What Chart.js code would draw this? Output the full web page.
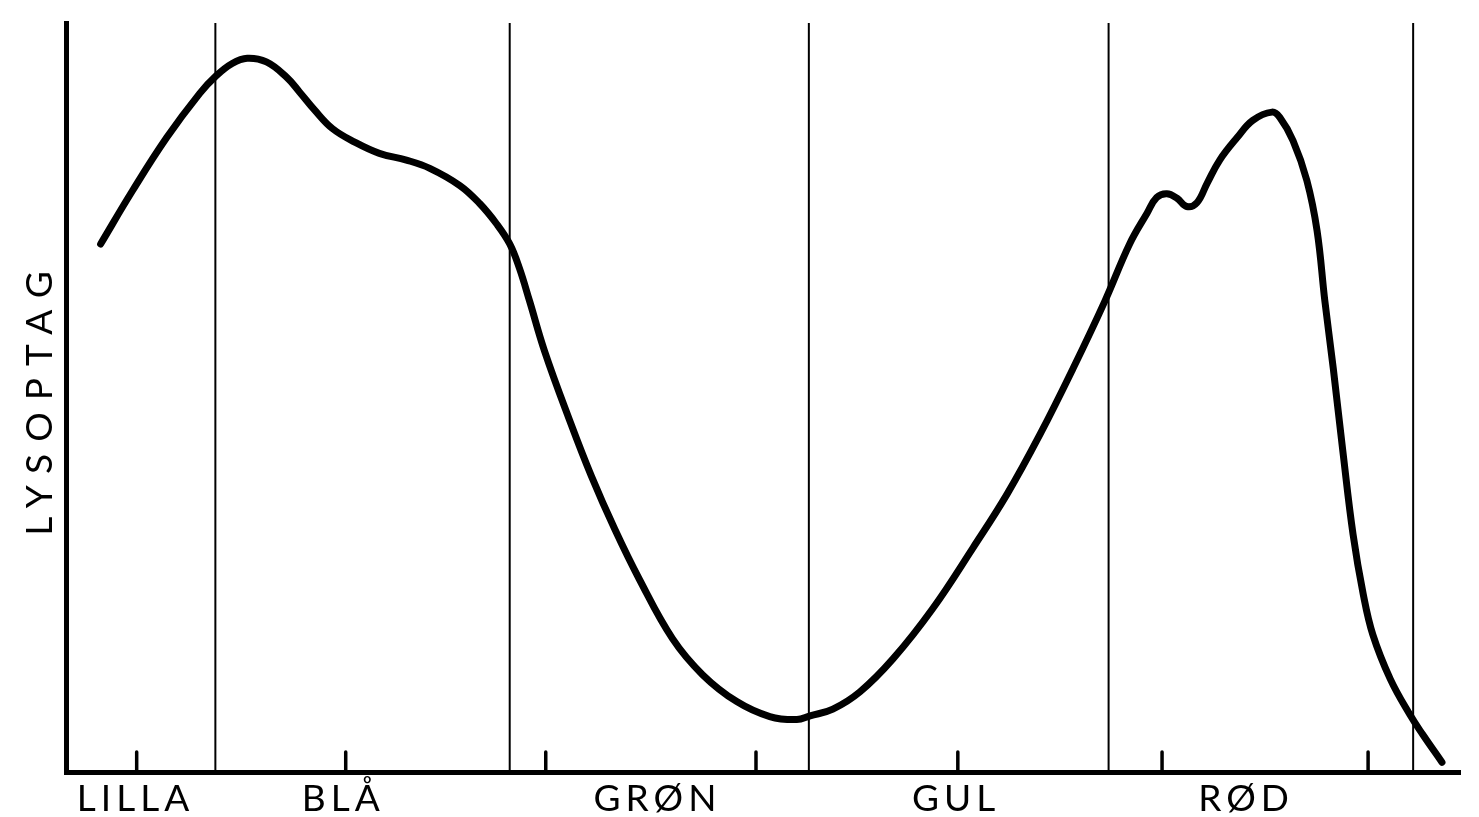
<!DOCTYPE html>
<html>
<head>
<meta charset="utf-8">
<title>Lysoptag</title>
<script src="https://cdn.jsdelivr.net/npm/chart.js@4.4.1/dist/chart.umd.min.js"></script>
<style>
  html, body { margin: 0; padding: 0; background: #fff; }
  #wrap { width: 1479px; height: 817px; }
</style>
</head>
<body>
<div id="wrap"><canvas id="spectrumChart"></canvas></div>
<script>
// wavelength (nm) and relative light absorption
const wavelengths = [
  380.7, 386.0, 391.7, 397.2, 400.0, 402.6, 405.1, 408.3, 411.6, 413.8,
  416.3, 419.3, 423.0, 427.1, 431.6, 435.5, 440.5, 443.8, 446.6, 448.8,
  450.4, 452.1, 454.6, 458.8, 462.4, 466.3, 470.4, 475.9, 480.9,
  486.6, 492.1, 496.6, 498.8, 502.6, 507.1, 512.6, 519.2, 525.9, 531.6,
  537.1, 542.6, 547.9, 552.0, 554.9, 556.5, 558.2, 559.9, 561.5, 563.2,
  564.9, 567.0, 569.9, 572.5, 575.7, 577.0, 579.2, 581.5, 583.2, 584.5,
  585.9, 587.5, 589.2, 590.9, 592.5, 595.4, 598.7, 600.8, 604.0
];
const absorption = [
  70.5, 77.6, 84.7, 90.6, 93.0, 94.6, 95.3, 94.8, 92.8, 90.8,
  88.4, 85.9, 84.1, 82.6, 81.7, 80.6, 78.3, 75.9, 73.2, 70.5,
  67.3, 62.9, 56.2, 46.9, 39.5, 32.4, 25.7, 17.8, 13.0,
  9.4, 7.4, 7.0, 7.5, 8.4, 10.7, 15.1, 21.8, 29.9, 37.1,
  45.1, 53.9, 62.9, 70.5, 74.6, 76.7, 77.2, 76.6, 75.5, 76.0,
  78.6, 81.7, 84.7, 87.0, 88.1, 87.4, 84.3, 79.0, 72.3, 62.9,
  53.9, 42.8, 31.7, 23.7, 18.3, 12.4, 7.6, 5.0, 1.3
];

const bandNames = ['LILLA', 'BLÅ', 'GRØN', 'GUL', 'RØD'];
const bandLabelAt = [386.5, 421.1, 473.4, 523.1, 571.4];
const bandEdges = [399.8, 448.8, 498.6, 548.5, 599.2];
const minorTicks = [386.7, 421.5, 454.8, 489.8, 523.4, 557.4, 591.7];

// colour borders and the small ticks standing on the x axis
const bandLines = {
  id: 'bandLines',
  beforeDatasetsDraw(chart) {
    const ctx = chart.ctx;
    const area = chart.chartArea;
    const x = chart.scales.x;
    ctx.save();
    ctx.strokeStyle = '#000';
    ctx.lineWidth = 2;
    bandEdges.forEach(v => {
      const px = x.getPixelForValue(v);
      ctx.beginPath();
      ctx.moveTo(px, area.top);
      ctx.lineTo(px, area.bottom);
      ctx.stroke();
    });
    ctx.lineWidth = 3.5;
    ctx.lineCap = 'round';
    minorTicks.forEach(v => {
      const px = x.getPixelForValue(v);
      ctx.beginPath();
      ctx.moveTo(px, area.bottom);
      ctx.lineTo(px, area.bottom - 20);
      ctx.stroke();
    });
    ctx.restore();
  }
};

// wide letters like the hand lettering; the y title (its layer is moved
// after the datasets with grid.z) gets wider spacing than the band names
const spacedText = {
  id: 'spacedText',
  beforeLayout(chart) { chart.ctx.letterSpacing = '5px'; },
  beforeDraw(chart) { chart.ctx.letterSpacing = '5px'; },
  afterDatasetsDraw(chart) { chart.ctx.letterSpacing = '12px'; }
};

const ctx = document.getElementById('spectrumChart').getContext('2d');

new Chart(ctx, {
  type: 'line',
  data: {
    datasets: [{
      label: 'Lysoptag',
      data: wavelengths.map((w, i) => ({ x: w, y: absorption[i] })),
      borderColor: '#000',
      borderWidth: 7,
      borderCapStyle: 'round',
      borderJoinStyle: 'round',
      pointRadius: 0,
      tension: 0.4,
      fill: false
    }]
  },
  options: {
    responsive: true,
    maintainAspectRatio: false,
    animation: false,
    layout: { padding: { left: 10, top: 23, right: 19, bottom: -10 } },
    plugins: {
      legend: { display: false },
      tooltip: { enabled: false }
    },
    scales: {
      x: {
        type: 'linear',
        min: 375,
        max: 607,
        afterBuildTicks: scale => {
          scale.ticks = bandLabelAt.map(v => ({ value: v }));
        },
        ticks: {
          autoSkip: false,
          maxRotation: 0,
          padding: 9,
          color: '#000',
          font: { family: 'Lato', size: 37, weight: 400, lineHeight: 1 },
          callback: (value, index) => bandNames[index]
        },
        grid: { display: false, drawTicks: false },
        border: { display: true, color: '#000', width: 5 }
      },
      y: {
        min: 0,
        max: 100,
        ticks: { display: false },
        grid: { display: false, drawTicks: false, z: 1 },
        border: { display: true, color: '#000', width: 5, z: 2 },
        title: {
          display: true,
          text: 'LYSOPTAG',
          color: '#000',
          padding: { top: 8, bottom: 4 },
          font: { family: 'Lato', size: 37, weight: 400 }
        }
      }
    }
  },
  plugins: [bandLines, spacedText]
});
</script>
</body>
</html>
